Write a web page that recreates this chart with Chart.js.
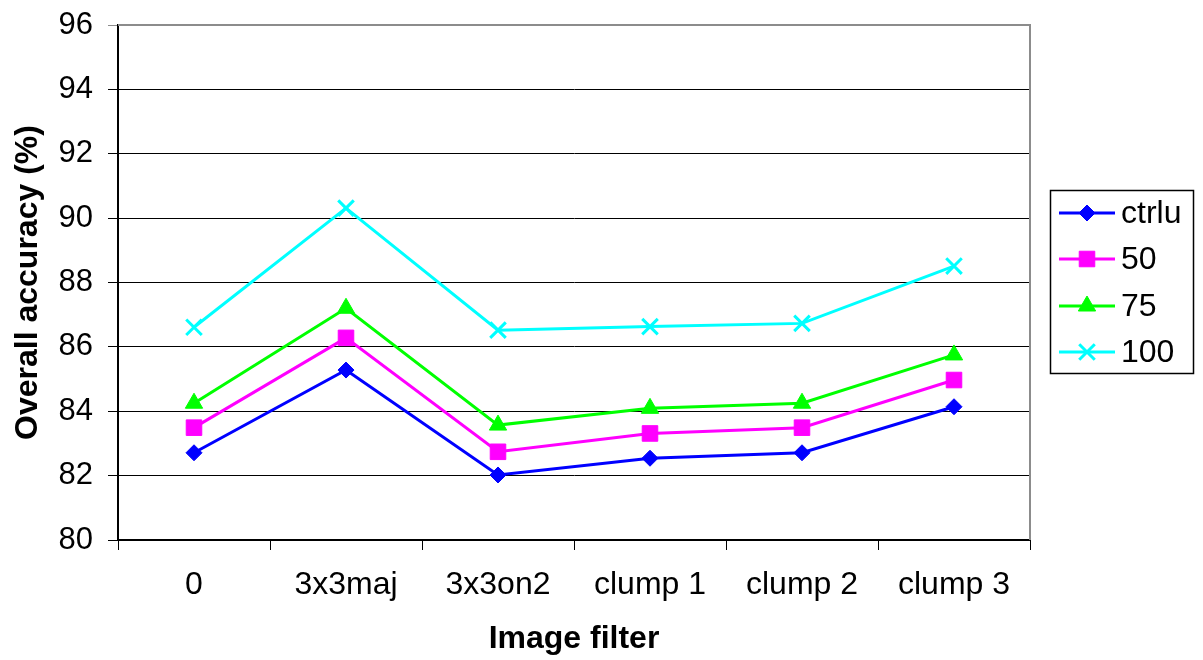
<!DOCTYPE html>
<html>
<head>
<meta charset="utf-8">
<script src="https://cdn.jsdelivr.net/npm/chart.js@4/dist/chart.umd.min.js"></script>
<style>
  html, body { margin: 0; padding: 0; background: #fff; }
  canvas { display: block; }
</style>
</head>
<body>
<canvas id="myChart" width="1203" height="660"></canvas>
<script>
// categories along the bottom
var filters = ['0', '3x3maj', '3x3on2', 'clump 1', 'clump 2', 'clump 3'];
// overall accuracy (%) for each run
var ctrlu = [82.71, 85.28, 82.02, 82.54, 82.71, 84.14];
var acc50 = [83.49, 86.28, 82.74, 83.31, 83.49, 84.97];
var acc75 = [84.25, 87.20, 83.57, 84.09, 84.25, 85.75];
var acc100 = [86.61, 90.31, 86.52, 86.63, 86.73, 88.51];
// y axis range
var yMin = 80, yMax = 96, yStep = 2;

var FONT = "'Liberation Sans', Arial, sans-serif";

function series(label, data, color, style, radius) {
  return {
    label: label,
    data: data,
    borderColor: color,
    backgroundColor: color,
    borderWidth: 3,
    pointStyle: style,
    pointRadius: radius,
    pointHoverRadius: radius,
    pointBorderWidth: style === 'crossRot' ? 3 : 1,
    pointBorderColor: color,
    pointBackgroundColor: color,
    fill: false,
    tension: 0
  };
}

//frame: gray top/right edges of the plot
var framePlugin = {
  id: 'frame',
  beforeDatasetsDraw: function(chart) {
    var a = chart.chartArea, c = chart.ctx;
    c.save();
    c.strokeStyle = '#8c8c8c';
    c.lineWidth = 2;
    c.beginPath();
    c.moveTo(a.left, a.top);
    c.lineTo(a.right, a.top);
    c.lineTo(a.right, a.bottom);
    c.stroke();
    c.restore();
  }
};

//legend box on the right, line + marker per series
var legendPlugin = {
  id: 'boxLegend',
  afterDraw: function(chart) {
    var c = chart.ctx;
    var bx = 1050, by = 190, bw = 143, bh = 183;
    c.save();
    c.strokeStyle = '#000';
    c.lineWidth = 1.5;
    c.strokeRect(bx + 0.5, by + 0.5, bw, bh);
    var rows = [213, 259, 306, 352];
    chart.data.datasets.forEach(function(ds, i) {
      var y = rows[i];
      c.strokeStyle = ds.borderColor;
      c.fillStyle = ds.backgroundColor;
      c.lineWidth = 3;
      c.beginPath();
      c.moveTo(1059, y);
      c.lineTo(1115, y);
      c.stroke();
      c.lineWidth = ds.pointBorderWidth;
      Chart.helpers.drawPoint(c, {
        pointStyle: ds.pointStyle,
        radius: ds.pointRadius,
        rotation: 0,
        borderWidth: ds.pointBorderWidth
      }, 1087, y);
      c.fillStyle = '#000';
      c.font = '32px ' + FONT;
      c.textAlign = 'left';
      c.textBaseline = 'middle';
      c.fillText(ds.label, 1121, y + 1);
    });
    c.restore();
  }
};

var ctx = document.getElementById('myChart').getContext('2d');
var myChart = new Chart(ctx, {
  type: 'line',
  data: {
    labels: filters,
    datasets: [
      series('ctrlu', ctrlu, '#0000ff', 'rectRot', 8),
      series('50', acc50, '#ff00ff', 'rect', 11),
      series('75', acc75, '#00ff00', 'triangle', 10),
      series('100', acc100, '#00ffff', 'crossRot', 11)
    ]
  },
  options: {
    responsive: false,
    animation: false,
    layout: { padding: { left: 0, top: 25, right: 173, bottom: 0 } },
    plugins: {
      legend: { display: false },
      tooltip: { enabled: false }
    },
    scales: {
      x: {
        type: 'category',
        offset: true,
        grid: {
          offset: true,
          drawOnChartArea: false,
          drawTicks: true,
          tickLength: 10,
          color: '#000',
          lineWidth: 1
        },
        border: { color: '#000', width: 2 },
        ticks: {
          color: '#000',
          font: { family: FONT, size: 32 },
          padding: 16,
          maxRotation: 0,
          autoSkip: false
        },
        title: {
          display: true,
          text: 'Image filter',
          color: '#000',
          font: { family: FONT, size: 32, weight: 'bold' },
          padding: { top: 0, bottom: 2 }
        },
        afterFit: function(s) { s.height = 120; }
      },
      y: {
        min: yMin,
        max: yMax,
        grid: {
          tickLength: 10,
          color: function(c) { return c.tick && c.tick.value === yMax ? '#8c8c8c' : '#000'; },
          lineWidth: 1
        },
        border: { color: '#000', width: 2 },
        ticks: {
          stepSize: yStep,
          color: '#000',
          font: { family: FONT, size: 31 },
          padding: 15
        },
        title: {
          display: true,
          text: 'Overall accuracy (%)',
          color: '#000',
          font: { family: FONT, size: 32, weight: 'bold' },
          padding: { top: 9, bottom: 0 }
        },
        afterFit: function(s) {
          s.width = 118;
          //label overhang is already covered by the layout padding
          s.paddingTop = 0;
          s.paddingBottom = 0;
        }
      }
    }
  },
  plugins: [framePlugin, legendPlugin]
});
</script>
</body>
</html>
